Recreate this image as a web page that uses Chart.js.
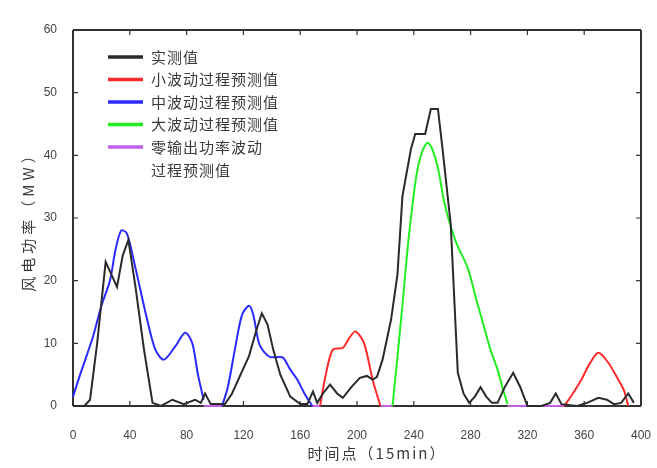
<!DOCTYPE html>
<html>
<head>
<meta charset="utf-8">
<script src="https://cdn.jsdelivr.net/npm/chart.js@4"></script>
<style>
  body { margin: 0; background: #fff; }
  #wrap { width: 657px; height: 468px; }
</style>
</head>
<body>
<div id="wrap"><canvas id="wind" width="657" height="468"></canvas></div>
<script>
// series names (legend)
var seriesNames = ['实测值', '小波动过程预测值', '中波动过程预测值', '大波动过程预测值', ['零输出功率波动', '过程预测值']];
var xTitle = '时间点（15min）';
var yTitle = '风电功率（MW）';
var xTicks = [0, 40, 80, 120, 160, 200, 240, 280, 320, 360, 400];
var yTicks = [0, 10, 20, 30, 40, 50, 60];

// measured power
var actualX = [0, 8, 12, 17, 23, 27, 31, 35, 39, 44, 50, 56, 62, 70, 78, 86, 90, 93, 97, 107, 112, 118, 124, 129, 133, 137, 141, 146, 153, 160, 165, 169, 172, 176, 181, 186, 190, 196, 202, 207, 211, 214, 218, 224, 228.5, 232, 238, 241, 248, 252, 257, 260, 266, 271, 275, 279, 283, 287, 291, 295, 299, 304, 310, 315, 320, 330, 336, 340, 344, 355, 362, 370, 376, 381, 386, 391, 395];
var actualY = [0, 0, 1, 10, 23, 21, 19, 24, 26.5, 19, 9, 0.5, 0, 1, 0.3, 1, 0.5, 2, 0.3, 0.3, 2, 5, 8, 12, 14.8, 13, 9, 5, 1.5, 0.3, 0.3, 2.3, 0.5, 2, 3.4, 2, 1.3, 3, 4.5, 4.8, 4.2, 4.6, 7.4, 13.8, 21, 33.5, 41, 43.4, 43.4, 47.4, 47.4, 41.5, 29, 5.3, 2, 0.5, 1.5, 3, 1.5, 0.5, 0.5, 3, 5.3, 3, 0, 0, 0.5, 2, 0.3, 0, 0.5, 1.3, 1, 0.3, 0.5, 2, 0.5];

// small fluctuation forecast
var smallX = [174, 178, 183, 190, 195, 199, 205, 211, 216.5, 217, 346, 352, 358, 364, 370, 377, 384, 388, 391];
var smallY = [0, 5, 9, 9.3, 11, 11.9, 10, 4.2, 0, null, 0, 2, 4.2, 6.8, 8.5, 6.9, 4.2, 2.5, 0];

// medium fluctuation forecast
var mediumX = [0, 5, 14, 20, 26, 30, 34, 38, 44, 52, 58, 64, 72, 79, 84, 88, 92, 93, 105, 109, 114, 119, 124, 127, 131, 135, 139, 144, 148, 153, 158, 163, 168.5];
var mediumY = [1.5, 5, 11, 16, 20, 25, 28, 27.5, 22, 14, 9, 7.4, 9.5, 11.7, 10, 5, 1, null, 0, 3, 9, 14.5, 16, 14.5, 10, 8.5, 7.8, 7.8, 7.7, 5.8, 4.2, 2, 0];

// large fluctuation forecast
var largeX = [225, 229, 233, 236, 239, 242, 245, 248, 250, 253, 257, 261, 264.5, 270, 278, 284, 289, 294, 299, 303, 306];
var largeY = [0, 9, 18.6, 26, 32, 37, 40, 41.6, 42, 41, 38, 33, 29.8, 26, 22, 17, 13, 9, 5.8, 2.5, 0.3];

// zero output forecast
var zeroX = [92, 105, 106, 168.5, 174, 175, 216.5, 225, 226, 306, 346];
var zeroY = [0, 0, null, 0, 0, null, 0, 0, null, 0, 0];

var colors = ['#2a2a2a', '#ff2a2a', '#2a2aff', '#22ee22', '#c060e8'];

function pts(xs, ys) {
  return xs.map(function (x, i) { return { x: x, y: ys[i] }; });
}

var tickFont = { family: '"Liberation Sans", Arial, sans-serif', size: 12 };
var cjkFont = '"Noto Sans CJK SC", sans-serif';

// frame with inward ticks, MATLAB style (under the curves)
var framePlugin = {
  id: 'frame',
  beforeDatasetsDraw: function (chart) {
    var ctx = chart.ctx;
    var sx = chart.scales.x, sy = chart.scales.y;
    var l = sx.getPixelForValue(0), r = sx.getPixelForValue(400);
    var t = sy.getPixelForValue(60), b = sy.getPixelForValue(0);
    ctx.save();
    ctx.strokeStyle = '#333';
    ctx.lineWidth = 2;
    ctx.beginPath();
    ctx.moveTo(l, t); ctx.lineTo(r, t);
    ctx.moveTo(r, t); ctx.lineTo(r, b);
    ctx.moveTo(l, b); ctx.lineTo(r, b);
    ctx.moveTo(l, t); ctx.lineTo(l, b);
    ctx.stroke();
    ctx.lineWidth = 1.2;
    ctx.beginPath();
    xTicks.forEach(function (v) {
      var px = sx.getPixelForValue(v);
      ctx.moveTo(px, b); ctx.lineTo(px, b - 5);
      ctx.moveTo(px, t); ctx.lineTo(px, t + 5);
    });
    yTicks.forEach(function (v) {
      var py = sy.getPixelForValue(v);
      ctx.moveTo(l, py); ctx.lineTo(l + 5, py);
      ctx.moveTo(r, py); ctx.lineTo(r - 5, py);
    });
    ctx.stroke();

    // axis titles
    ctx.fillStyle = '#3a3a3a';
    ctx.font = '15px ' + cjkFont;
    ctx.letterSpacing = '2px';
    ctx.textAlign = 'center';
    ctx.textBaseline = 'middle';
    ctx.fillText(xTitle, 377, 453);
    ctx.letterSpacing = '4px';
    ctx.translate(28, 218);
    ctx.rotate(-Math.PI / 2);
    ctx.fillText(yTitle, 0, 0);
    ctx.restore();
  }
};

// legend inside the plot, upper left
var legendPlugin = {
  id: 'innerLegend',
  afterDraw: function (chart) {
    var ctx = chart.ctx;
    var x0 = chart.scales.x.getPixelForValue(0) + 35;
    var y0 = chart.scales.y.getPixelForValue(60) + 27, row = 22.5;
    ctx.save();
    ctx.font = '15px ' + cjkFont;
    ctx.letterSpacing = '1px';
    ctx.textAlign = 'left';
    ctx.textBaseline = 'middle';
    chart.data.datasets.forEach(function (ds, i) {
      var y = y0 + i * row;
      ctx.strokeStyle = ds.borderColor;
      ctx.lineWidth = 3.5;
      ctx.beginPath();
      ctx.moveTo(x0, y); ctx.lineTo(x0 + 35, y);
      ctx.stroke();
      ctx.fillStyle = '#3a3a3a';
      var lines = Array.isArray(ds.label) ? ds.label : [ds.label];
      lines.forEach(function (t, j) {
        ctx.fillText(t, x0 + 43, y + j * 23.5);
      });
    });
    ctx.restore();
  }
};

function makeSet(i, xs, ys, tension) {
  return {
    label: seriesNames[i],
    data: pts(xs, ys),
    borderColor: colors[i],
    backgroundColor: colors[i],
    borderWidth: 2,
    pointRadius: 0,
    tension: tension,
    spanGaps: false,
    fill: false,
    clip: 4
  };
}

new Chart(document.getElementById('wind'), {
  type: 'line',
  data: {
    datasets: [
      makeSet(0, actualX, actualY, 0),
      makeSet(1, smallX, smallY, 0.3),
      makeSet(2, mediumX, mediumY, 0.3),
      makeSet(3, largeX, largeY, 0.3),
      makeSet(4, zeroX, zeroY, 0)
    ]
  },
  options: {
    responsive: false,
    animation: false,
    layout: { padding: { top: 30, right: 16, bottom: 0, left: 0 } },
    plugins: {
      legend: { display: false },
      tooltip: { enabled: false }
    },
    scales: {
      x: {
        type: 'linear',
        min: 0,
        max: 400,
        afterBuildTicks: function (s) { s.ticks = xTicks.map(function (v) { return { value: v }; }); },
        afterFit: function (s) { s.height = 62; s.paddingLeft = 0; s.paddingRight = 0; },
        grid: { display: false },
        border: { display: false },
        ticks: { padding: 14, color: '#444', font: tickFont, maxRotation: 0 }
      },
      y: {
        min: 0,
        max: 60,
        afterBuildTicks: function (s) { s.ticks = yTicks.map(function (v) { return { value: v }; }); },
        afterFit: function (s) { s.width = 73; s.paddingTop = 0; s.paddingBottom = 0; },
        grid: { display: false },
        border: { display: false },
        ticks: { padding: 8, color: '#444', font: tickFont }
      }
    }
  },
  plugins: [framePlugin, legendPlugin]
});
</script>
</body>
</html>
